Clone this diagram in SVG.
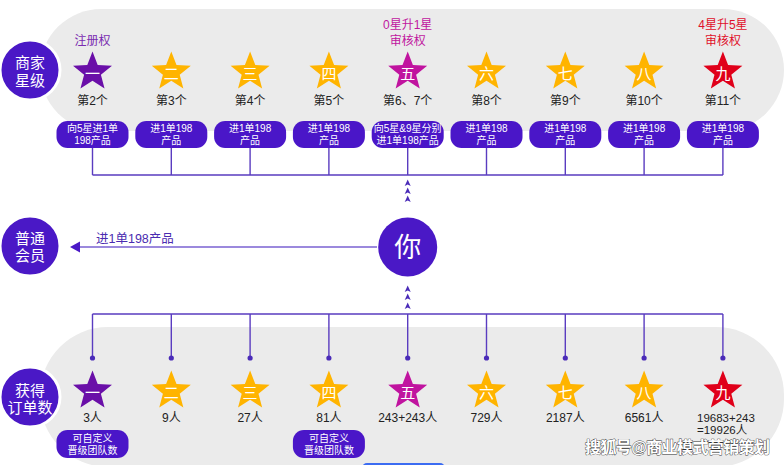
<svg xmlns="http://www.w3.org/2000/svg" xmlns:xlink="http://www.w3.org/1999/xlink" width="784" height="465" viewBox="0 0 784 465">
<defs>
<style>
text{font-family:"Liberation Sans","Noto Sans CJK SC",sans-serif;}
.band{fill:#ebebeb;}
.hub{fill:#4a18c6;stroke:#fff;stroke-width:3;}
.hubt{fill:#fff;font-size:15px;text-anchor:middle;}
.pill{fill:#4a16c8;}
.pillt{fill:#fff;font-size:10px;text-anchor:middle;}
.num{fill:#fff;font-size:15px;text-anchor:middle;}
.lab{fill:#222;font-size:12px;text-anchor:middle;}
.conn{stroke:#5a3cc0;stroke-width:1.4;fill:none;}
.gold{fill:#ffb400;}
.purp{fill:#6a0fa8;}
.mag{fill:#c0139f;}
.red{fill:#e0001a;}
</style>
<path id="star" d="M0,-20.5 L5.2,-7.1 L19.5,-6.33 L8.4,2.73 L12.05,16.58 L0,8.8 L-12.05,16.58 L-8.4,2.73 L-19.5,-6.33 L-5.2,-7.1 Z"/>
<path id="chev" d="M0,-3.5 L3,3 L0,1.5 L-3,3 Z" fill="#4a2bb8"/>
</defs>

<rect class="band" x="40" y="9" width="744" height="122" rx="61"/>
<rect class="band" x="40" y="327" width="744" height="140" rx="68"/>
<rect x="362" y="463" width="83" height="10" rx="5" fill="#3b6cf2"/>

<g id="connectors">
<g class="conn">
<path d="M92.5,148 V175 M171.3,148 V175 M250.1,148 V175 M328.9,148 V175 M407.7,148 V175 M486.5,148 V175 M565.3,148 V175 M644.1,148 V175 M722.9,148 V175 M92.5,175 H722.9"/>
<path d="M92.5,314 H722.9 M92.5,314 V358 M171.3,314 V358 M250.1,314 V358 M328.9,314 V358 M407.7,314 V358 M486.5,314 V358 M565.3,314 V358 M644.1,314 V358 M722.9,314 V358"/>
</g>
<g fill="#4a2bb8">
<circle cx="92.5" cy="358" r="2.6"/><circle cx="171.3" cy="358" r="2.6"/><circle cx="250.1" cy="358" r="2.6"/><circle cx="328.9" cy="358" r="2.6"/><circle cx="407.7" cy="358" r="2.6"/><circle cx="486.5" cy="358" r="2.6"/><circle cx="565.3" cy="358" r="2.6"/><circle cx="644.1" cy="358" r="2.6"/><circle cx="722.9" cy="358" r="2.6"/>
</g>
<use xlink:href="#chev" x="407.7" y="183"/><use xlink:href="#chev" x="407.7" y="191"/><use xlink:href="#chev" x="407.7" y="199"/>
<use xlink:href="#chev" x="407.7" y="289"/><use xlink:href="#chev" x="407.7" y="297"/><use xlink:href="#chev" x="407.7" y="306"/>
<path d="M377,247 H80" stroke="#7a62d2" stroke-width="1.3"/>
<path d="M70,247 L80,241.5 L80,252.5 Z" fill="#4a18c6"/>
<text x="96" y="243" font-size="12.5" fill="#4a2bb0">进1单198产品</text>
</g>

<g id="hub-merchant"><circle class="hub" cx="30" cy="70" r="30"/><text class="hubt" x="30" y="68">商家</text><text class="hubt" x="30" y="86">星级</text></g>
<g id="hub-member"><circle class="hub" cx="30" cy="246" r="30"/><text class="hubt" x="30" y="244" font-size="14">普通</text><text class="hubt" x="30" y="261" font-size="14">会员</text></g>
<g id="hub-orders"><circle class="hub" cx="30" cy="397" r="30"/><text class="hubt" x="30" y="396">获得</text><text class="hubt" x="30" y="413">订单数</text></g>
<g id="you"><circle cx="407.7" cy="247" r="29.5" fill="#4a18c6"/><text x="407.7" y="257" font-size="27" fill="#fff" text-anchor="middle">你</text></g>

<g id="top-notes" font-size="12" text-anchor="middle">
<text x="92.5" y="45" fill="#7a2cb0">注册权</text>
<text x="407.7" y="29" fill="#c0169f">0星升1星</text><text x="407.7" y="45" fill="#c0169f">审核权</text>
<text x="722.9" y="29" fill="#e0102a">4星升5星</text><text x="722.9" y="45" fill="#e0102a">审核权</text>
</g>

<g id="top1"><use xlink:href="#star" class="purp" x="92.5" y="72"/><text class="num" x="92.5" y="79">一</text><text class="lab" x="92.5" y="105">第2个</text><rect class="pill" x="56.5" y="121" width="72" height="27" rx="11"/><text class="pillt" x="92.5" y="132">向5星进1单</text><text class="pillt" x="92.5" y="144">198产品</text></g>
<g id="top2"><use xlink:href="#star" class="gold" x="171.3" y="72"/><text class="num" x="171.3" y="79">二</text><text class="lab" x="171.3" y="105">第3个</text><rect class="pill" x="135.3" y="121" width="72" height="27" rx="11"/><text class="pillt" x="171.3" y="132">进1单198</text><text class="pillt" x="171.3" y="144">产品</text></g>
<g id="top3"><use xlink:href="#star" class="gold" x="250.1" y="72"/><text class="num" x="250.1" y="79">三</text><text class="lab" x="250.1" y="105">第4个</text><rect class="pill" x="214.1" y="121" width="72" height="27" rx="11"/><text class="pillt" x="250.1" y="132">进1单198</text><text class="pillt" x="250.1" y="144">产品</text></g>
<g id="top4"><use xlink:href="#star" class="gold" x="328.9" y="72"/><text class="num" x="328.9" y="79">四</text><text class="lab" x="328.9" y="105">第5个</text><rect class="pill" x="292.9" y="121" width="72" height="27" rx="11"/><text class="pillt" x="328.9" y="132">进1单198</text><text class="pillt" x="328.9" y="144">产品</text></g>
<g id="top5"><use xlink:href="#star" class="mag" x="407.7" y="72"/><text class="num" x="407.7" y="79">五</text><text class="lab" x="407.7" y="105">第6、7个</text><rect class="pill" x="371.7" y="121" width="72" height="27" rx="11"/><text class="pillt" x="407.7" y="132" font-size="8.6">向5星&amp;9星分别</text><text class="pillt" x="407.7" y="144" font-size="8.6">进1单198产品</text></g>
<g id="top6"><use xlink:href="#star" class="gold" x="486.5" y="72"/><text class="num" x="486.5" y="79">六</text><text class="lab" x="486.5" y="105">第8个</text><rect class="pill" x="450.5" y="121" width="72" height="27" rx="11"/><text class="pillt" x="486.5" y="132">进1单198</text><text class="pillt" x="486.5" y="144">产品</text></g>
<g id="top7"><use xlink:href="#star" class="gold" x="565.3" y="72"/><text class="num" x="565.3" y="79">七</text><text class="lab" x="565.3" y="105">第9个</text><rect class="pill" x="529.3" y="121" width="72" height="27" rx="11"/><text class="pillt" x="565.3" y="132">进1单198</text><text class="pillt" x="565.3" y="144">产品</text></g>
<g id="top8"><use xlink:href="#star" class="gold" x="644.1" y="72"/><text class="num" x="644.1" y="79">八</text><text class="lab" x="644.1" y="105">第10个</text><rect class="pill" x="608.1" y="121" width="72" height="27" rx="11"/><text class="pillt" x="644.1" y="132">进1单198</text><text class="pillt" x="644.1" y="144">产品</text></g>
<g id="top9"><use xlink:href="#star" class="red" x="722.9" y="72"/><text class="num" x="722.9" y="79">九</text><text class="lab" x="722.9" y="105">第11个</text><rect class="pill" x="686.9" y="121" width="72" height="27" rx="11"/><text class="pillt" x="722.9" y="132">进1单198</text><text class="pillt" x="722.9" y="144">产品</text></g>

<g id="bot1"><use xlink:href="#star" class="purp" x="92.5" y="391"/><text class="num" x="92.5" y="398">一</text><text class="lab" x="92.5" y="422">3人</text><rect class="pill" x="56.5" y="430" width="72" height="28" rx="11"/><text class="pillt" x="92.5" y="442">可自定义</text><text class="pillt" x="92.5" y="454">晋级团队数</text></g>
<g id="bot2"><use xlink:href="#star" class="gold" x="171.3" y="391"/><text class="num" x="171.3" y="398">二</text><text class="lab" x="171.3" y="422">9人</text></g>
<g id="bot3"><use xlink:href="#star" class="gold" x="250.1" y="391"/><text class="num" x="250.1" y="398">三</text><text class="lab" x="250.1" y="422">27人</text></g>
<g id="bot4"><use xlink:href="#star" class="gold" x="328.9" y="391"/><text class="num" x="328.9" y="398">四</text><text class="lab" x="328.9" y="422">81人</text><rect class="pill" x="292.9" y="430" width="72" height="28" rx="11"/><text class="pillt" x="328.9" y="442">可自定义</text><text class="pillt" x="328.9" y="454">晋级团队数</text></g>
<g id="bot5"><use xlink:href="#star" class="mag" x="407.7" y="391"/><text class="num" x="407.7" y="398">五</text><text class="lab" x="407.7" y="422">243+243人</text></g>
<g id="bot6"><use xlink:href="#star" class="gold" x="486.5" y="391"/><text class="num" x="486.5" y="398">六</text><text class="lab" x="486.5" y="422">729人</text></g>
<g id="bot7"><use xlink:href="#star" class="gold" x="565.3" y="391"/><text class="num" x="565.3" y="398">七</text><text class="lab" x="565.3" y="422">2187人</text></g>
<g id="bot8"><use xlink:href="#star" class="gold" x="644.1" y="391"/><text class="num" x="644.1" y="398">八</text><text class="lab" x="644.1" y="422">6561人</text></g>
<g id="bot9"><use xlink:href="#star" class="red" x="722.9" y="391"/><text class="num" x="722.9" y="398">九</text><text x="697" y="422" font-size="11.5" fill="#222">19683+243</text><text x="697" y="434" font-size="11.5" fill="#222">=19926人</text></g>

<text x="585" y="453" font-size="16" font-weight="bold" fill="#fff" stroke="#333" stroke-width="0.8" paint-order="stroke" textLength="185">搜狐号@商业模式营销策划</text>
</svg>
